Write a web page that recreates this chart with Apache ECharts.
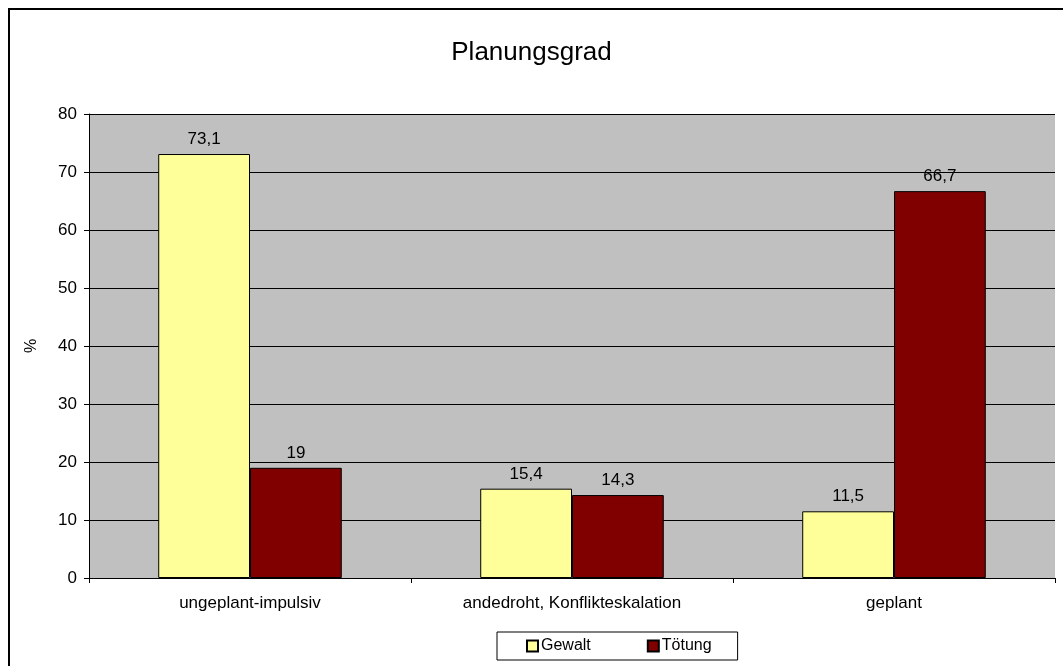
<!DOCTYPE html>
<html><head><meta charset="utf-8">
<script src="https://cdn.jsdelivr.net/npm/echarts@6/dist/echarts.min.js"></script>
<style>html,body{margin:0;padding:0;background:#fff}#c{width:1063px;height:666px}</style>
</head><body><div id="c"></div>
<script>
const categories = ['ungeplant-impulsiv', 'andedroht, Konflikteskalation', 'geplant'];
const gewalt = [73.1, 15.4, 11.5];
const toetung = [19, 14.3, 66.7];
const yTicks = [0, 10, 20, 30, 40, 50, 60, 70, 80];

const chart = echarts.init(document.getElementById('c'));
const font = 'Liberation Sans, Arial, sans-serif';
const lbl = { show: true, position: 'top', color: '#000', fontSize: 17, fontFamily: font, distance: 6,
  formatter: p => String(p.value).replace('.', ',') };
chart.setOption({
  animation: false,
  title: { text: 'Planungsgrad', left: 'center', top: 35, textStyle: { fontSize: 26, fontWeight: 'normal', color: '#000', fontFamily: font } },
  graphic: [{ type: 'rect', shape: { x: 9, y: 9, width: 1060, height: 670 }, style: { fill: 'none', stroke: '#000', lineWidth: 2 }, silent: true }],
  legend: { bottom: 6, left: 497, itemWidth: 11, itemHeight: 11, itemGap: 56,
    padding: [6, 26, 6, 29], borderColor: '#000', borderWidth: 1,
    textStyle: { fontSize: 16, fontFamily: font, color: '#000', padding: [0, 0, 0, -2] },
    icon: 'rect', data: ['Gewalt', 'Tötung'] },
  grid: { left: 89, right: 8, top: 114, bottom: 88, backgroundColor: '#c0c0c0', show: true, borderWidth: 0 },
  xAxis: { type: 'category', data: categories,
    axisLine: { lineStyle: { color: '#000' } },
    axisTick: { show: true, alignWithLabel: false, lineStyle: { color: '#000' } },
    axisLabel: { fontSize: 17, fontFamily: font, color: '#000', margin: 17 } },
  yAxis: { type: 'value', min: yTicks[0], max: yTicks[yTicks.length - 1], interval: 10,
    name: '%', nameLocation: 'middle', nameGap: 49, nameRotate: 90,
    nameTextStyle: { fontSize: 16, fontFamily: font, color: '#000' },
    axisLine: { show: true, lineStyle: { color: '#000' } },
    axisTick: { show: true, length: 5, lineStyle: { color: '#000' } },
    splitLine: { lineStyle: { color: '#000', width: 1 } },
    axisLabel: { fontSize: 17, fontFamily: font, color: '#000', margin: 12 } },
  series: [
    { name: 'Gewalt', type: 'bar', data: gewalt, barGap: '0%', barCategoryGap: '43%',
      itemStyle: { color: '#ffff99', borderColor: '#000', borderWidth: 1 }, label: lbl },
    { name: 'Tötung', type: 'bar', data: toetung,
      itemStyle: { color: '#800000', borderColor: '#000', borderWidth: 1 }, label: lbl }
  ]
});
</script></body></html>
